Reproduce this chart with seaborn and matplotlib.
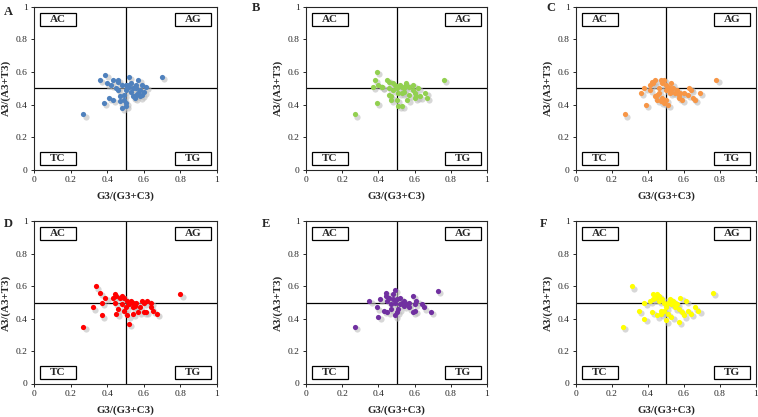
import matplotlib.pyplot as plt
import matplotlib.transforms as mtransforms
from matplotlib.patches import Rectangle
import numpy as np
import pandas as pd
import seaborn as sns

# GC3 / AT3 skew values, one pair of lists per panel
a_x = [0.27, 0.36, 0.39, 0.38, 0.40, 0.41, 0.43, 0.43, 0.42, 0.46, 0.46, 0.45, 0.46, 0.47, 0.47,
       0.48, 0.48, 0.49, 0.49, 0.50, 0.50, 0.50, 0.50, 0.51, 0.52, 0.52, 0.53, 0.54, 0.54, 0.55,
       0.56, 0.56, 0.57, 0.57, 0.58, 0.58, 0.59, 0.60, 0.61, 0.59, 0.70, 0.51, 0.53, 0.56, 0.55]
a_y = [0.34, 0.55, 0.58, 0.41, 0.53, 0.44, 0.43, 0.55, 0.52, 0.55, 0.54, 0.50, 0.49, 0.42, 0.45,
       0.52, 0.38, 0.43, 0.46, 0.49, 0.52, 0.39, 0.41, 0.50, 0.57, 0.51, 0.48, 0.50, 0.45, 0.51,
       0.50, 0.52, 0.55, 0.47, 0.49, 0.45, 0.46, 0.48, 0.51, 0.52, 0.57, 0.52, 0.53, 0.46, 0.44]

b_x = [0.27, 0.39, 0.38, 0.37, 0.39, 0.40, 0.42, 0.45, 0.46, 0.46, 0.46, 0.47, 0.47, 0.49,
       0.50, 0.51, 0.53, 0.52, 0.53, 0.54, 0.54, 0.53, 0.56, 0.57, 0.59, 0.59, 0.60, 0.60,
       0.61, 0.62, 0.63, 0.66, 0.67, 0.76, 0.48, 0.48, 0.55, 0.57, 0.50, 0.51, 0.55, 0.42]
b_y = [0.34, 0.60, 0.55, 0.51, 0.41, 0.52, 0.51, 0.55, 0.54, 0.50, 0.46, 0.45, 0.43, 0.52,
       0.43, 0.39, 0.39, 0.52, 0.51, 0.50, 0.48, 0.47, 0.43, 0.46, 0.49, 0.52, 0.47, 0.44,
       0.45, 0.50, 0.45, 0.47, 0.44, 0.55, 0.49, 0.53, 0.53, 0.51, 0.50, 0.47, 0.52, 0.51]

c_x = [0.27, 0.36, 0.38, 0.39, 0.41, 0.42, 0.43, 0.44, 0.44, 0.45, 0.45, 0.46, 0.46, 0.47, 0.47,
       0.48, 0.48, 0.49, 0.49, 0.50, 0.50, 0.50, 0.51, 0.51, 0.52, 0.53, 0.53, 0.54, 0.55, 0.56,
       0.57, 0.58, 0.59, 0.60, 0.62, 0.63, 0.64, 0.65, 0.66, 0.69, 0.78, 0.52, 0.41, 0.57]
c_y = [0.34, 0.47, 0.50, 0.40, 0.52, 0.54, 0.53, 0.45, 0.55, 0.46, 0.43, 0.50, 0.47, 0.42, 0.55,
       0.44, 0.53, 0.55, 0.41, 0.52, 0.49, 0.43, 0.40, 0.51, 0.50, 0.53, 0.48, 0.50, 0.47, 0.49,
       0.44, 0.47, 0.43, 0.47, 0.46, 0.50, 0.49, 0.44, 0.43, 0.47, 0.55, 0.47, 0.49, 0.46]

d_x = [0.27, 0.34, 0.36, 0.37, 0.32, 0.37, 0.39, 0.43, 0.44, 0.45, 0.44, 0.45, 0.46, 0.47,
       0.48, 0.49, 0.49, 0.51, 0.52, 0.53, 0.52, 0.54, 0.54, 0.55, 0.57, 0.58, 0.59, 0.60,
       0.60, 0.62, 0.64, 0.64, 0.65, 0.67, 0.80, 0.51, 0.50, 0.54, 0.56, 0.61, 0.48]
d_y = [0.35, 0.60, 0.56, 0.50, 0.47, 0.42, 0.53, 0.53, 0.55, 0.54, 0.50, 0.43, 0.46, 0.53,
       0.49, 0.53, 0.45, 0.42, 0.49, 0.51, 0.37, 0.43, 0.50, 0.48, 0.44, 0.47, 0.51, 0.50,
       0.44, 0.51, 0.50, 0.47, 0.45, 0.43, 0.55, 0.51, 0.47, 0.47, 0.50, 0.44, 0.54]

e_x = [0.27, 0.35, 0.39, 0.40, 0.41, 0.43, 0.44, 0.44, 0.45, 0.45, 0.46, 0.47, 0.48, 0.49,
       0.49, 0.50, 0.49, 0.50, 0.51, 0.52, 0.53, 0.54, 0.56, 0.57, 0.59, 0.59, 0.60, 0.60,
       0.61, 0.64, 0.65, 0.69, 0.73, 0.48, 0.54, 0.57, 0.52, 0.47]
e_y = [0.35, 0.51, 0.47, 0.41, 0.52, 0.45, 0.56, 0.54, 0.44, 0.51, 0.53, 0.46, 0.55, 0.58,
       0.50, 0.52, 0.42, 0.44, 0.46, 0.49, 0.50, 0.51, 0.49, 0.47, 0.44, 0.54, 0.45, 0.49,
       0.51, 0.49, 0.47, 0.44, 0.57, 0.52, 0.48, 0.50, 0.53, 0.49]

f_x = [0.26, 0.31, 0.35, 0.38, 0.38, 0.41, 0.42, 0.43, 0.43, 0.44, 0.45, 0.45, 0.46, 0.47,
       0.47, 0.48, 0.48, 0.49, 0.49, 0.50, 0.50, 0.51, 0.51, 0.52, 0.53, 0.53, 0.54, 0.55,
       0.56, 0.57, 0.57, 0.58, 0.59, 0.60, 0.61, 0.62, 0.64, 0.66, 0.68, 0.76, 0.55, 0.46]
f_y = [0.35, 0.60, 0.45, 0.40, 0.50, 0.51, 0.44, 0.55, 0.52, 0.53, 0.55, 0.42, 0.54, 0.45,
       0.43, 0.44, 0.52, 0.50, 0.45, 0.39, 0.47, 0.43, 0.50, 0.52, 0.49, 0.41, 0.51, 0.47,
       0.49, 0.46, 0.38, 0.53, 0.44, 0.42, 0.51, 0.45, 0.43, 0.47, 0.45, 0.56, 0.50, 0.51]

panel_names = ['A', 'B', 'C', 'D', 'E', 'F']
panel_colors = ['#4f81bd', '#92d050', '#f79646', '#ff0000', '#7030a0', '#ffff00']
quadrants = ['AC', 'AG', 'TC', 'TG']
tick_vals = [0, 0.2, 0.4, 0.6, 0.8, 1]
tick_labels = ['0', '0.2', '0.4', '0.6', '0.8', '1']

sns.set_style('ticks')
plt.rcParams['font.family'] = ['Liberation Serif', 'DejaVu Serif']

fig = plt.figure(figsize=(7.58, 4.17), dpi=100)

W, H = 758.0, 417.0
# axes boxes in pixels (left, top, right, bottom)
boxes = [(34, 6.5, 217, 170), (306, 6.5, 487, 170), (576, 6.5, 756, 170),
         (34, 221.5, 217, 383.5), (306, 221.5, 487, 383.5), (576, 221.5, 756, 383.5)]
letter_pos = [(4, 12), (252, 8), (546, 8), (4, 224), (262, 224), (540, 224)]

all_x = [a_x, b_x, c_x, d_x, e_x, f_x]
all_y = [a_y, b_y, c_y, d_y, e_y, f_y]

for i in range(6):
    l, t, r, b = boxes[i]
    ax = fig.add_axes([l / W, 1 - b / H, (r - l) / W, (b - t) / H])
    df = pd.DataFrame({'x': all_x[i], 'y': all_y[i]})

    # soft drop shadow like the Excel markers
    shadow = mtransforms.offset_copy(ax.transData, fig=fig, x=1.6, y=-1.6, units='points')
    sns.scatterplot(data=df, x='x', y='y', ax=ax, color='#bdbdbd', alpha=0.6, s=20,
                    linewidth=0, transform=shadow, zorder=2)
    sns.scatterplot(data=df, x='x', y='y', ax=ax, color=panel_colors[i], s=14,
                    linewidth=0, zorder=3)

    ax.axvline(0.5, color='black', linewidth=0.9, zorder=1)
    ax.axhline(0.5, color='black', linewidth=0.9, zorder=1)

    ax.set_xlim(0, 1)
    ax.set_ylim(0, 1)
    ax.set_xticks(tick_vals)
    ax.set_xticklabels(tick_labels, fontsize=6.8)
    ax.set_yticks(tick_vals)
    ax.set_yticklabels(tick_labels, fontsize=6.8)
    ax.tick_params(direction='out', length=2.5, width=0.7, pad=2)
    for s in ax.spines.values():
        s.set_linewidth(0.8)
        s.set_visible(True)
    ax.set_xlabel('G3/(G3+C3)', fontsize=7.8, weight='bold', labelpad=5.5)
    ax.set_ylabel('A3/(A3+T3)', fontsize=7.8, weight='bold', labelpad=3.5)

    # boxed quadrant labels
    bw = 36.0 / (r - l)
    bh = 13.0 / (b - t)
    spots = [(0.033, 1 - 0.037 - bh), (0.967 - bw, 1 - 0.037 - bh),
             (0.033, 0.03), (0.967 - bw, 0.03)]
    for q, (qx, qy) in zip(quadrants, spots):
        ax.add_patch(Rectangle((qx, qy), bw, bh, transform=ax.transAxes, facecolor='white',
                               edgecolor='black', linewidth=0.9, zorder=4))
        ax.text(qx + bw / 2, qy + bh / 2, q, transform=ax.transAxes, ha='center', va='center',
                fontsize=8, weight='bold', zorder=5)

    lx, ly = letter_pos[i]
    fig.text(lx / W, 1 - ly / H, panel_names[i], fontsize=9, weight='bold', ha='left', va='center')

plt.savefig('out.png', dpi=100)
